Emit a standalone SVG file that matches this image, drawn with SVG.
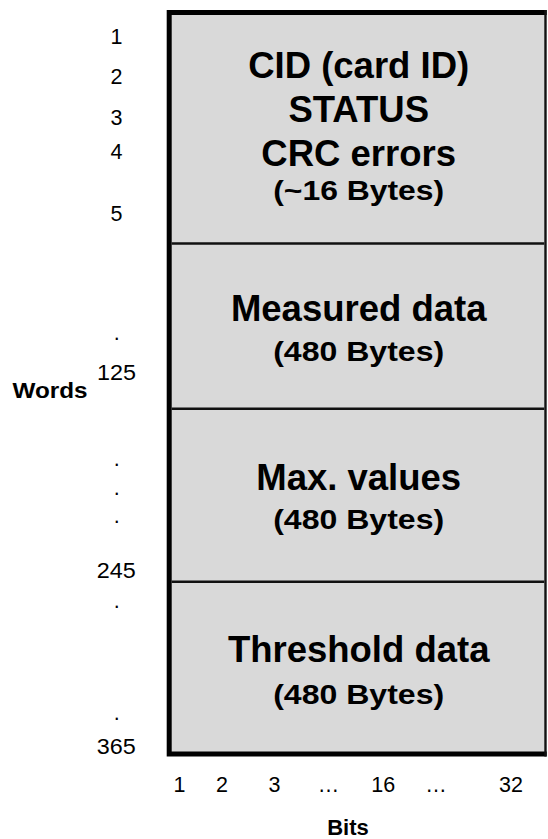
<svg xmlns="http://www.w3.org/2000/svg" width="548" height="839" viewBox="0 0 548 839">
  <style>
    .area { fill: #d9d9d9; stroke: none; }
    .frame { fill: none; stroke: #000; stroke-width: 5; }
    .edge { fill: none; stroke: #111; stroke-width: 2.4; }
    .split { stroke: #111; stroke-width: 2.5; }
    .title { font-family: "Liberation Sans", Arial, sans-serif; font-weight: bold; font-size: 36.5px; text-anchor: middle; fill: #000; }
    .size { font-family: "Liberation Sans", Arial, sans-serif; font-weight: bold; font-size: 28px; text-anchor: middle; fill: #000; }
    .num { font-family: "Liberation Sans", Arial, sans-serif; font-size: 21.5px; text-anchor: middle; fill: #000; }
    .axis { font-family: "Liberation Sans", Arial, sans-serif; font-weight: bold; font-size: 22px; text-anchor: middle; fill: #000; }
  </style>

  <!-- memory sections -->
  <g id="header">
    <rect class="area" x="169" y="12" width="376" height="232"/>
    <text class="title" x="358.7" y="77.5">CID (card ID)</text>
    <text class="title" x="358.7" y="122">STATUS</text>
    <text class="title" x="358.7" y="166">CRC errors</text>
    <text class="size" x="358.7" y="200" textLength="171" lengthAdjust="spacingAndGlyphs">(~16 Bytes)</text>
  </g>

  <g id="measured">
    <rect class="area" x="169" y="243.5" width="376" height="165.3"/>
    <text class="title" x="358.7" y="320.7">Measured data</text>
    <text class="size" x="358.7" y="360.7" textLength="171" lengthAdjust="spacingAndGlyphs">(480 Bytes)</text>
  </g>

  <g id="max-values">
    <rect class="area" x="169" y="408.8" width="376" height="172.9"/>
    <text class="title" x="358.7" y="490">Max. values</text>
    <text class="size" x="358.7" y="529.3" textLength="171" lengthAdjust="spacingAndGlyphs">(480 Bytes)</text>
  </g>

  <g id="threshold">
    <rect class="area" x="169" y="581.7" width="376" height="172.5"/>
    <text class="title" x="358.7" y="661.7">Threshold data</text>
    <text class="size" x="358.7" y="704" textLength="171" lengthAdjust="spacingAndGlyphs">(480 Bytes)</text>
  </g>

  <!-- frame and section dividers -->
  <g id="frame">
    <line class="split" x1="171.7" y1="243.5" x2="544.3" y2="243.5"/>
    <line class="split" x1="171.7" y1="408.8" x2="544.3" y2="408.8"/>
    <line class="split" x1="171.7" y1="581.7" x2="544.3" y2="581.7"/>
    <path class="frame" d="M546.7,12.5 H169.2 V754 H546.7"/>
    <line class="edge" x1="545.5" y1="10" x2="545.5" y2="756.5"/>
  </g>

  <!-- word index axis -->
  <g id="words-axis">
    <text class="num" x="116.5" y="44.3">1</text>
    <text class="num" x="116.5" y="83.5">2</text>
    <text class="num" x="116.5" y="124.5">3</text>
    <text class="num" x="116.5" y="158.5">4</text>
    <text class="num" x="116.5" y="220.5">5</text>
    <text class="num" x="116.7" y="339.6">.</text>
    <text class="num" x="116.5" y="380" textLength="39" lengthAdjust="spacingAndGlyphs">125</text>
    <text class="num" x="116.7" y="466.3">.</text>
    <text class="num" x="116.7" y="494.6">.</text>
    <text class="num" x="116.7" y="523">.</text>
    <text class="num" x="116.2" y="578.3" textLength="39" lengthAdjust="spacingAndGlyphs">245</text>
    <text class="num" x="116.7" y="608">.</text>
    <text class="num" x="116.7" y="719.6">.</text>
    <text class="num" x="116.2" y="754.3" textLength="39" lengthAdjust="spacingAndGlyphs">365</text>
    <text class="axis" x="50" y="398" textLength="75" lengthAdjust="spacingAndGlyphs">Words</text>
  </g>

  <!-- bit index axis -->
  <g id="bits-axis">
    <text class="num" x="179.5" y="791.7">1</text>
    <text class="num" x="222" y="791.7">2</text>
    <text class="num" x="274.5" y="791.7">3</text>
    <text class="num" x="328.5" y="791.7">…</text>
    <text class="num" x="383.3" y="791.7">16</text>
    <text class="num" x="436" y="791.7">…</text>
    <text class="num" x="511" y="791.7">32</text>
    <text class="axis" x="348" y="834.5">Bits</text>
  </g>
</svg>
